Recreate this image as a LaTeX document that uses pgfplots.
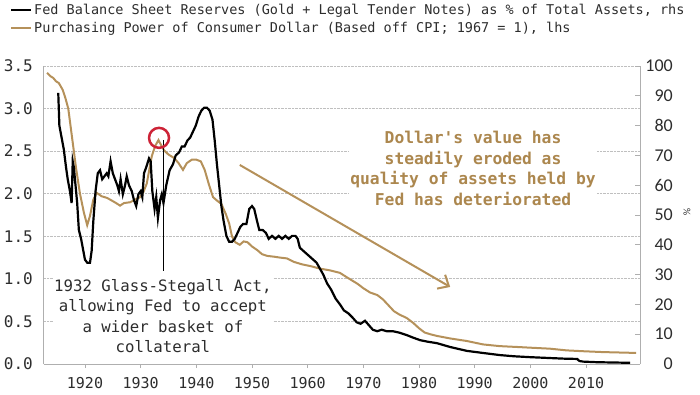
\documentclass[border=0pt]{standalone}
\usepackage{fontspec}
\setmonofont{DejaVu Sans Mono}
\renewcommand{\familydefault}{\ttdefault}
\newfontfamily\calib{Carlito}
\usepackage{pgfplots}
\pgfplotsset{compat=1.18}
\usetikzlibrary{arrows.meta}
\definecolor{tanline}{RGB}{181,145,90}
\definecolor{tantext}{RGB}{172,135,78}
\definecolor{circred}{RGB}{205,35,55}
\definecolor{axgray}{RGB}{175,175,175}
\definecolor{lbl}{RGB}{45,45,45}

\pgfplotstableread{
yr val
1913.2 3.42
1913.8 3.38
1914.3 3.36
1914.8 3.32
1915.3 3.30
1916.0 3.22
1916.5 3.12
1917.0 3.00
1917.7 2.65
1918.4 2.30
1919.1 2.00
1919.8 1.78
1920.4 1.63
1920.9 1.74
1921.5 1.93
1922.1 2.01
1923.0 1.97
1924.0 1.95
1924.8 1.92
1925.6 1.89
1926.3 1.86
1927.0 1.89
1928.1 1.90
1929.0 1.93
1929.9 1.96
1930.5 2.02
1931.1 2.12
1931.6 2.30
1932.0 2.44
1932.6 2.56
1933.2 2.63
1933.6 2.58
1934.2 2.51
1935.0 2.46
1936.0 2.42
1936.8 2.36
1937.6 2.28
1938.3 2.36
1939.2 2.40
1940.0 2.40
1940.8 2.38
1941.5 2.28
1942.3 2.10
1943.0 1.96
1943.7 1.92
1944.5 1.88
1945.3 1.76
1945.9 1.65
1946.4 1.50
1947.0 1.43
1947.8 1.40
1948.5 1.44
1949.2 1.43
1950.0 1.38
1950.9 1.34
1951.8 1.29
1952.7 1.27
1954.0 1.26
1955.0 1.25
1956.3 1.24
1957.5 1.20
1959.0 1.17
1960.5 1.15
1962.2 1.12
1964.0 1.10
1965.8 1.07
1967.0 1.02
1968.0 0.98
1969.0 0.94
1970.0 0.89
1971.2 0.84
1972.5 0.81
1973.5 0.76
1974.5 0.69
1975.5 0.62
1976.5 0.58
1977.8 0.54
1979.0 0.48
1980.0 0.42
1981.0 0.37
1982.0 0.35
1983.2 0.33
1985.6 0.30
1988.6 0.27
1991.5 0.23
1994.5 0.21
1997.6 0.20
2000.5 0.19
2003.5 0.18
2006.5 0.16
2009.5 0.15
2013.0 0.14
2016.0 0.135
2019.0 0.13
}\ppower

\pgfplotstableread{
yr pct
1915.2 91
1915.4 80
1915.8 76
1916.2 72
1916.6 66
1916.9 62
1917.3 58
1917.6 54
1917.8 68
1918.0 66
1918.3 60
1918.6 54
1918.9 45
1919.3 42
1919.7 38
1920.0 35
1920.4 34
1920.9 34
1921.2 38
1921.5 48
1921.9 58
1922.3 64
1922.7 65
1923.1 62
1923.5 63
1923.9 64
1924.2 63
1924.6 68
1925.0 64
1925.4 62
1925.8 60
1926.1 58
1926.4 62
1926.8 57
1927.2 60
1927.5 63
1927.9 60
1928.4 58
1928.8 55
1929.2 53
1929.6 57
1930.0 58
1930.3 56
1930.6 64
1931.0 66
1931.5 69
1931.8 68
1932.1 58
1932.5 52
1932.8 56
1933.1 49
1933.5 55
1933.8 57
1934.1 54
1934.6 60
1935.2 65
1935.8 67
1936.3 70
1936.9 71
1937.4 73
1937.9 73
1938.4 75
1938.9 76
1939.4 78
1939.9 80
1940.4 83
1940.9 85
1941.4 86
1941.9 86
1942.4 85
1942.9 82
1943.3 75
1943.7 67
1944.1 60
1944.5 53
1944.9 48
1945.4 43
1945.9 41
1946.4 41
1946.9 42
1947.4 44
1947.9 46
1948.4 47
1949.0 47
1949.5 52
1950.0 53
1950.4 52
1950.9 48
1951.3 45
1951.9 45
1952.5 44
1953.0 42
1953.6 43
1954.2 42
1954.8 43
1955.4 42
1956.0 43
1956.6 42
1957.2 43
1957.8 43
1958.2 42
1958.6 39
1959.2 38
1959.8 37
1960.4 36
1961.0 35
1961.6 34
1962.2 32
1962.8 30
1963.5 27
1964.2 25
1965.0 22
1965.8 20
1966.5 18
1967.3 17
1968.1 15.5
1968.8 14
1969.5 13.5
1970.3 14.5
1971.0 13
1971.7 11.5
1972.5 11
1973.3 11.5
1974.2 11
1975.3 11
1976.5 10.5
1977.8 9.7
1979.0 8.8
1980.2 8
1981.5 7.5
1983.2 7
1985.6 5.7
1988.6 4.4
1991.5 3.7
1994.5 3.0
1997.0 2.6
1999.9 2.3
2003.5 2.0
2006.0 1.8
2008.4 1.7
2008.8 1.0
2009.5 0.8
2012.0 0.6
2015.0 0.5
2017.9 0.4
}\fedres

\begin{document}
\begin{tikzpicture}
\path[use as bounding box] (0,0) rectangle (700pt,394pt);
\begin{axis}[
  at={(44pt,30pt)}, anchor=south west, scale only axis,
  width=596pt, height=298pt,
  xmin=1912.64, xmax=2019.69, ymin=0, ymax=3.5,
  axis x line*=bottom, axis y line*=left,
  axis line style={axgray, line width=1pt},
  xtick={1920,1930,...,2010}, ytick={0,0.5,...,3.5},
  ymajorgrids, grid style={densely dotted, gray!50, line width=0.8pt},
  tick align=outside, major tick length=4pt,
  x tick style={axgray, line width=0.8pt},
  y tick style={draw=none},
  /pgf/number format/assume math mode=true,
  xticklabel style={font=\fontsize{15}{18}\selectfont, text=lbl, inner sep=0pt, yshift=-9pt, /pgf/number format/1000 sep={}},
  yticklabel style={font=\fontsize{16}{19}\selectfont, text=lbl, inner sep=0pt, xshift=-7pt,
     /pgf/number format/fixed, /pgf/number format/fixed zerofill, /pgf/number format/precision=1},
  legend style={at={(-0.057,1.2148)}, anchor=north west, draw=none, fill=none,
     inner sep=0pt, row sep=2pt, font=\fontsize{13.5}{16}\selectfont, text=lbl},
  legend cell align=left,
  legend image code/.code={\draw[#1, line width=2pt] (0pt,0pt) -- (20pt,0pt);},
]
\addlegendimage{black, line width=2.2pt}
\addlegendentry{Fed Balance Sheet Reserves (Gold + Legal Tender Notes) as \% of Total Assets, rhs}
\addplot[tanline, line width=2pt] table[x=yr, y=val] {\ppower};
\addlegendentry{Purchasing Power of Consumer Dollar (Based off CPI; 1967 = 1), lhs}

\draw[black, line width=0.8pt] (axis cs:1934.0,2.63) -- (axis cs:1934.0,1.093);
\draw[circred, line width=2.5pt] (axis cs:1933.3,2.656) circle[radius=10pt];
\draw[tanline, line width=2pt, -{Straight Barb[length=9pt, width=16pt, line width=2pt]}] (axis cs:1947.8,2.338) -- (axis cs:1985.6,0.905);
\node[align=center, fill=white, inner sep=1pt, font=\fontsize{15.7}{20.5}\selectfont, text=lbl] at (axis cs:1934.0,0.564)
  {1932 Glass-Stegall Act,\\allowing Fed to accept\\a wider basket of\\collateral};
\node[align=center, fill=white, inner sep=1pt, font=\bfseries\fontsize{16.3}{20.5}\selectfont, text=tantext] at (axis cs:1989.7,2.297)
  {Dollar\textquotesingle s value has\\steadily eroded as\\quality of assets held by\\Fed has deteriorated};
\end{axis}
\begin{axis}[
  at={(44pt,30pt)}, anchor=south west, scale only axis,
  width=596pt, height=298pt,
  xmin=1912.64, xmax=2019.69, ymin=0, ymax=100,
  axis x line=none, axis y line*=right,
  axis line style={axgray, line width=1pt},
  ytick={0,10,...,100}, tick align=inside, major tick length=5pt,
  y tick style={axgray, line width=0.8pt},
  /pgf/number format/assume math mode=true,
  yticklabel style={font=\calib\fontsize{18}{20}\selectfont, text=lbl, anchor=east, inner sep=0pt, xshift=33pt},
]
\addplot[black, line width=2.2pt] table[x=yr, y=pct] {\fedres};
\end{axis}
\node[rotate=-90, font=\calib\fontsize{10}{12}\selectfont, text=lbl] at (687pt,182pt) {\%};
\end{tikzpicture}
\end{document}
